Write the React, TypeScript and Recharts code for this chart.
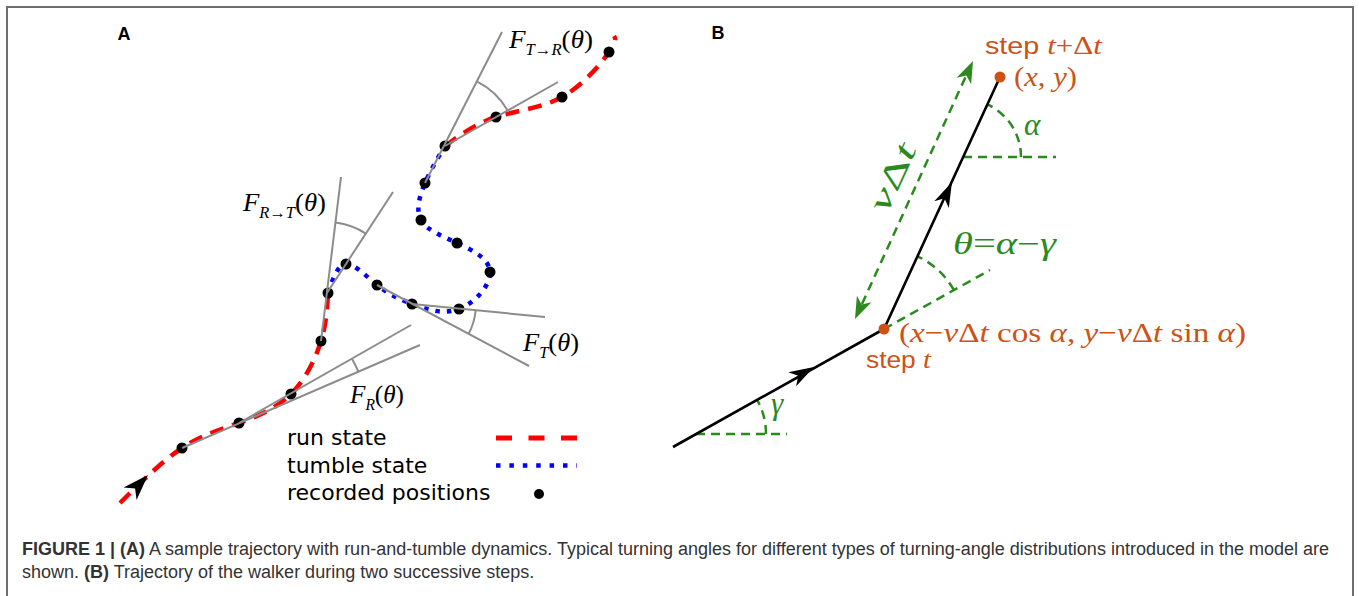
import React from "react";
import { ComposedChart, Scatter, XAxis, YAxis, Legend } from "recharts";

const W = 1359;
const H = 596;

const RED = "#ff0000";
const BLUE = "#0000ff";
const GREY = "#8c8c8c";
const GREEN = "#2b8a1e";
const ORANGE = "#cc5216";
const SERIF = "'Liberation Serif', 'DejaVu Serif', serif";
const SANS = "'Liberation Sans', Arial, sans-serif";
const NARROW = "'Liberation Sans Narrow', 'Liberation Sans', sans-serif";
const DEJAVU = "'DejaVu Sans', sans-serif";

type Pt = { x: number; y: number };
type Part = { t: string; i?: boolean; sub?: boolean; sans?: boolean };
type Note = { x: number; y: number; kind: string; parts: Part[]; w?: number };

// figure units: 1 unit = 1 px, y grows downward (y axis reversed)

// ---- panel A: sample trajectory
const runIn: Pt[] = [
  { x: 120, y: 503 }, { x: 182, y: 448 }, { x: 239, y: 423 }, { x: 291, y: 394 },
  { x: 321, y: 341 }, { x: 328, y: 293 },
];
const tumble: Pt[] = [
  { x: 328, y: 293 }, { x: 346, y: 264 }, { x: 377, y: 285 }, { x: 412, y: 304 },
  { x: 459, y: 309 }, { x: 490, y: 272 }, { x: 457, y: 243 }, { x: 421, y: 220 },
  { x: 425, y: 183 }, { x: 445, y: 146 },
];
const runOut: Pt[] = [
  { x: 445, y: 146 }, { x: 496, y: 117 }, { x: 562, y: 97 }, { x: 609, y: 52 }, { x: 614, y: 36 },
];
const recorded: Pt[] = [
  { x: 182, y: 448 }, { x: 239, y: 423 }, { x: 291, y: 394 }, { x: 321, y: 341 },
  { x: 328, y: 293 }, { x: 346, y: 264 }, { x: 377, y: 285 }, { x: 412, y: 304 },
  { x: 459, y: 309 }, { x: 490, y: 272 }, { x: 457, y: 243 }, { x: 421, y: 220 },
  { x: 425, y: 183 }, { x: 445, y: 146 }, { x: 496, y: 117 }, { x: 562, y: 97 },
  { x: 609, y: 52 },
];
const startArrow = [{ x: 148, y: 475, dx: 1, dy: -1.05 }];

// tangent lines used to show the turning angles
const tangents: Pt[][] = [
  [{ x: 182, y: 448 }, { x: 420, y: 345 }],
  [{ x: 239, y: 423 }, { x: 411, y: 325 }],
  [{ x: 377, y: 285 }, { x: 529, y: 366 }],
  [{ x: 412, y: 304 }, { x: 545, y: 317 }],
  [{ x: 321, y: 341 }, { x: 341, y: 177 }],
  [{ x: 327, y: 293 }, { x: 393, y: 192 }],
  [{ x: 425, y: 183 }, { x: 502, y: 32 }],
  [{ x: 445, y: 146 }, { x: 558, y: 82 }],
];
const turnArcs = [
  { x: 239, y: 423, r: 130, p: { x: 420, y: 345 }, q: { x: 411, y: 325 } },
  { x: 412, y: 304, r: 64, p: { x: 529, y: 366 }, q: { x: 545, y: 317 } },
  { x: 327, y: 293, r: 71, p: { x: 341, y: 177 }, q: { x: 393, y: 192 } },
  { x: 445, y: 146, r: 72, p: { x: 502, y: 32 }, q: { x: 558, y: 82 } },
];

const notesA: Note[] = [
  { x: 124, y: 40, kind: "panel", parts: [{ t: "A" }] },
  { x: 509, y: 48, kind: "F", w: 84, parts: [{ t: "F", i: true }, { t: "T→R", i: true, sub: true }, { t: "(" }, { t: "θ", i: true }, { t: ")" }] },
  { x: 243, y: 211, kind: "F", w: 83, parts: [{ t: "F", i: true }, { t: "R→T", i: true, sub: true }, { t: "(" }, { t: "θ", i: true }, { t: ")" }] },
  { x: 350, y: 403, kind: "F", w: 54, parts: [{ t: "F", i: true }, { t: "R", i: true, sub: true }, { t: "(" }, { t: "θ", i: true }, { t: ")" }] },
  { x: 523, y: 351, kind: "F", w: 56, parts: [{ t: "F", i: true }, { t: "T", i: true, sub: true }, { t: "(" }, { t: "θ", i: true }, { t: ")" }] },
];

const legendItems = [
  { label: "run state", kind: "run" },
  { label: "tumble state", kind: "tumble" },
  { label: "recorded positions", kind: "dot" },
];

// ---- panel B: two successive steps
const stepPath: Pt[] = [{ x: 673, y: 447 }, { x: 884, y: 329 }, { x: 1000, y: 77 }];
const stepPoints: Pt[] = [{ x: 884, y: 329 }, { x: 1000, y: 77 }];
const stepArrows = [
  { x: 814, y: 367, dx: 211, dy: -118 },
  { x: 952, y: 182, dx: 116, dy: -252 },
];
const guideLines: Pt[][] = [
  [{ x: 696, y: 434 }, { x: 787, y: 434 }],
  [{ x: 963, y: 157 }, { x: 1056, y: 157 }],
  [{ x: 884, y: 329 }, { x: 990, y: 270 }],
  [{ x: 862, y: 304 }, { x: 966, y: 76 }],
];
const lengthArrows = [
  { x: 973, y: 61, dx: 118, dy: -258 },
  { x: 855, y: 319, dx: -118, dy: 258 },
];
const guideArcs = [
  { x: 696, y: 434, r: 70, p: { x: 787, y: 434 }, q: { x: 884, y: 329 } },
  { x: 963, y: 157, r: 58, p: { x: 1056, y: 157 }, q: { x: 1000, y: 77 } },
  { x: 884, y: 329, r: 80, p: { x: 990, y: 270 }, q: { x: 1000, y: 77 } },
];

const notesB: Note[] = [
  { x: 718, y: 39, kind: "panel", parts: [{ t: "B" }] },
  { x: 985, y: 54, kind: "step", w: 117, parts: [{ t: "step ", sans: true }, { t: "t", i: true }, { t: "+Δ" }, { t: "t", i: true }] },
  { x: 1014, y: 86, kind: "math", w: 63, parts: [{ t: "(" }, { t: "x", i: true }, { t: ", " }, { t: "y", i: true }, { t: ")" }] },
  { x: 1024, y: 135, kind: "green", parts: [{ t: "α", i: true }] },
  { x: 953, y: 254, kind: "greenBig", w: 103, parts: [{ t: "θ", i: true }, { t: "=" }, { t: "α", i: true }, { t: "−" }, { t: "γ", i: true }] },
  {
    x: 899, y: 342, kind: "math", w: 347,
    parts: [
      { t: "(" }, { t: "x", i: true }, { t: "−" }, { t: "v", i: true }, { t: "Δ" }, { t: "t", i: true },
      { t: " cos " }, { t: "α", i: true }, { t: ", " }, { t: "y", i: true }, { t: "−" }, { t: "v", i: true },
      { t: "Δ" }, { t: "t", i: true }, { t: " sin " }, { t: "α", i: true }, { t: ")" },
    ],
  },
  { x: 866, y: 368, kind: "step", w: 65, parts: [{ t: "step ", sans: true }, { t: "t", i: true }] },
  { x: 771, y: 414, kind: "green", parts: [{ t: "γ", i: true }] },
  { x: 892, y: 177, kind: "rotated", w: 72, parts: [{ t: "v", i: true }, { t: "Δ" }, { t: "t", i: true }] },
];

const captionLines = [
  [
    { t: "FIGURE 1 | (A)", b: true },
    { t: " A sample trajectory with run-and-tumble dynamics. Typical turning angles for different types of turning-angle distributions introduced in the model are" },
  ],
  [{ t: "shown. " }, { t: "(B)", b: true }, { t: " Trajectory of the walker during two successive steps." }],
];

// ---- shapes
const noDot = () => <g />;

const dotShape = (r: number, fill: string) => (p: any) => (
  <circle cx={p.cx} cy={p.cy} r={r} fill={fill} />
);

const arrowShape = (fill: string, len: number, half: number) => (p: any) => {
  const deg = (Math.atan2(p.payload.dy, p.payload.dx) * 180) / Math.PI;
  return (
    <polygon
      points={`0,0 ${-len},${-half} ${-len * 0.72},0 ${-len},${half}`}
      transform={`translate(${p.cx},${p.cy}) rotate(${deg})`}
      fill={fill}
    />
  );
};

// arc around a vertex, between the rays towards p and q (units are pixels here)
const arcShape = (stroke: string, width: number, dash?: string) => (props: any) => {
  const { cx, cy, payload } = props;
  const { r, p, q } = payload;
  const a = Math.atan2(p.y - payload.y, p.x - payload.x);
  const b = Math.atan2(q.y - payload.y, q.x - payload.x);
  let d = b - a;
  while (d > Math.PI) d -= 2 * Math.PI;
  while (d < -Math.PI) d += 2 * Math.PI;
  const x0 = cx + r * Math.cos(a);
  const y0 = cy + r * Math.sin(a);
  const x1 = cx + r * Math.cos(a + d);
  const y1 = cy + r * Math.sin(a + d);
  return (
    <path
      d={`M${x0},${y0} A${r},${r} 0 0 ${d > 0 ? 1 : 0} ${x1},${y1}`}
      fill="none"
      stroke={stroke}
      strokeWidth={width}
      strokeDasharray={dash}
    />
  );
};

const noteStyle: Record<string, { size: number; color: string }> = {
  panel: { size: 18, color: "#000" },
  F: { size: 26, color: "#000" },
  step: { size: 26, color: ORANGE },
  math: { size: 28, color: ORANGE },
  green: { size: 31, color: GREEN },
  greenBig: { size: 31, color: GREEN },
  rotated: { size: 32, color: GREEN },
};

const noteShape = (props: any) => {
  const { cx, cy, payload } = props;
  const note = payload as Note;
  const st = noteStyle[note.kind];
  if (note.kind === "panel") {
    return (
      <text x={cx} y={cy} textAnchor="middle" fontFamily={SANS} fontWeight="bold" fontSize={st.size} fill={st.color}>
        {note.parts[0].t}
      </text>
    );
  }
  const sub = Math.round(st.size * 0.6);
  const shift = st.size * 0.28;
  let down = false;
  const spans = note.parts.map((part, k) => {
    let dy: number | undefined;
    if (part.sub && !down) {
      dy = shift;
      down = true;
    } else if (!part.sub && down) {
      dy = -shift;
      down = false;
    }
    return (
      <tspan
        key={k}
        dy={dy}
        fontStyle={part.i ? "italic" : "normal"}
        fontSize={part.sub ? sub : part.sans ? st.size - 2 : st.size}
        fontFamily={part.sans ? NARROW : SERIF}
      >
        {part.t}
      </tspan>
    );
  });
  const fit = note.w ? { textLength: note.w, lengthAdjust: "spacingAndGlyphs" as const } : {};
  if (note.kind === "rotated") {
    return (
      <text
        x={cx}
        y={cy}
        textAnchor="middle"
        dominantBaseline="central"
        fill={st.color}
        transform={`rotate(-65.4, ${cx}, ${cy})`}
        {...fit}
      >
        {spans}
      </text>
    );
  }
  return (
    <text x={cx} y={cy} fill={st.color} style={{ whiteSpace: "pre" }} {...fit}>
      {spans}
    </text>
  );
};

const LegendBox = () => (
  <svg width={310} height={86}>
    {legendItems.map((item, k) => {
      const cy = 14 + k * 27.5;
      return (
        <g key={item.label}>
          <text x={0} y={cy + 7} fontFamily={DEJAVU} fontSize={22} fill="#000">
            {item.label}
          </text>
          {item.kind === "run" && (
            <line x1={209} x2={290} y1={cy} y2={cy} stroke={RED} strokeWidth={5} strokeDasharray="16 16.5" />
          )}
          {item.kind === "tumble" && (
            <line x1={209} x2={290} y1={cy} y2={cy} stroke={BLUE} strokeWidth={4.5} strokeDasharray="4.5 8.9" />
          )}
          {item.kind === "dot" && <circle cx={252} cy={cy + 1} r={5} fill="#000" />}
        </g>
      );
    })}
  </svg>
);

const segment = (key: string, pts: Pt[], stroke: string, width: number, dash?: string, curve = "linear") => (
  <Scatter
    key={key}
    data={pts}
    line={{ stroke, strokeWidth: width, strokeDasharray: dash, strokeLinecap: "butt" }}
    lineType="joint"
    lineJointType={curve as any}
    shape={noDot}
    legendType="none"
    isAnimationActive={false}
  />
);

export default function App() {
  return (
    <div style={{ position: "absolute", left: 0, top: 0, width: W, height: H, background: "#fff", overflow: "hidden" }}>
      <div
        style={{
          position: "absolute",
          left: 6,
          top: 6,
          width: 1348,
          height: 640,
          boxSizing: "border-box",
          border: "2px solid #6e6e6e",
          borderBottom: "none",
        }}
      />
      <div style={{ position: "absolute", left: 0, top: 0 }}>
        <ComposedChart width={W} height={H} margin={{ top: 0, right: 0, bottom: 0, left: 0 }}>
          <XAxis type="number" dataKey="x" domain={[0, W]} allowDataOverflow hide />
          <YAxis type="number" dataKey="y" domain={[0, H]} allowDataOverflow reversed hide />

          {/* panel A */}
          {segment("runIn", runIn, RED, 4.5, "14 9", "natural")}
          {segment("tumble", tumble, BLUE, 4.5, "4.5 7", "natural")}
          {segment("runOut", runOut, RED, 4.5, "14 9", "natural")}
          <Scatter data={recorded} shape={dotShape(5.5, "#000")} legendType="none" isAnimationActive={false} />
          {tangents.map((t, k) => segment(`tan${k}`, t, GREY, 2))}
          <Scatter data={turnArcs} shape={arcShape(GREY, 2)} legendType="none" isAnimationActive={false} />
          <Scatter data={startArrow} shape={arrowShape("#000", 26, 9)} legendType="none" isAnimationActive={false} />
          <Scatter data={notesA} shape={noteShape} legendType="none" isAnimationActive={false} />

          {/* panel B */}
          {guideLines.map((g, k) => segment(`guide${k}`, g, GREEN, 2.5, "9 6"))}
          <Scatter data={guideArcs} shape={arcShape(GREEN, 2.5, "9 6")} legendType="none" isAnimationActive={false} />
          <Scatter data={lengthArrows} shape={arrowShape(GREEN, 22, 8)} legendType="none" isAnimationActive={false} />
          {segment("steps", stepPath, "#000", 2.6)}
          <Scatter data={stepArrows} shape={arrowShape("#000", 25, 8)} legendType="none" isAnimationActive={false} />
          <Scatter data={stepPoints} shape={dotShape(5.5, ORANGE)} legendType="none" isAnimationActive={false} />
          <Scatter data={notesB} shape={noteShape} legendType="none" isAnimationActive={false} />

          <Legend
            layout="horizontal"
            verticalAlign="middle"
            align="center"
            content={() => <LegendBox />}
            wrapperStyle={{ left: 287, top: 424, width: 310, height: 86 }}
          />
        </ComposedChart>
      </div>
      <div
        style={{
          position: "absolute",
          left: 22,
          top: 538,
          fontFamily: SANS,
          fontSize: 18,
          lineHeight: "23px",
          color: "#333",
          whiteSpace: "nowrap",
        }}
      >
        {captionLines.map((line, k) => (
          <div key={k}>
            {line.map((s, j) => (
              <span key={j} style={{ fontWeight: s.b ? "bold" : "normal" }}>
                {s.t}
              </span>
            ))}
          </div>
        ))}
      </div>
    </div>
  );
}
